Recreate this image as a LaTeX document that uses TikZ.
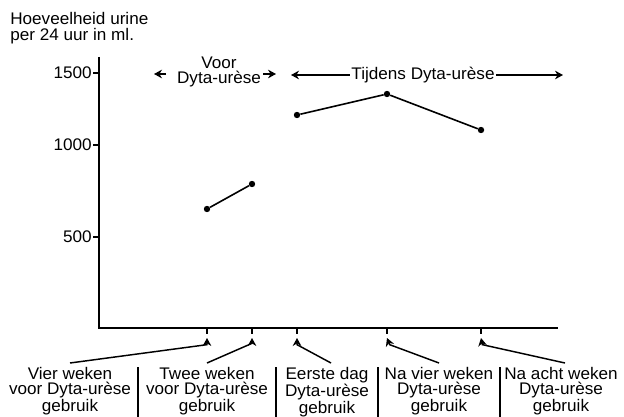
\documentclass[tikz,border=0pt]{standalone}
\usepackage{fontspec}
\setmainfont[FakeStretch=1.02]{Liberation Sans}
\usetikzlibrary{arrows.meta}
\tikzstyle{tekst} = [inner sep=0pt,
font=\fontsize{12.6}{11.6}\selectfont]
\tikzstyle{onder} = [tekst, align=center, anchor=north]
\tikzstyle{as} = [line width=1.4pt]
\tikzstyle{lijn} = [line width=1.2pt]
\tikzstyle{punt} = [circle, fill=black, inner sep=0pt, minimum size=4.8pt]
\tikzstyle{scheiding} = [line width=1.8pt]
\tikzstyle{pijl} = [line width=1.1pt,-{Stealth[length=6pt,width=6.5pt]}]

\begin{document}
\begin{tikzpicture}[x=0.75pt,y=-0.75pt]
        \useasboundingbox (0,0) rectangle (624,417);
        % titel
        \node (titel) [tekst, align=left, anchor=north west, font=\fontsize{12.6}{12}\selectfont] at (10,12) {Hoeveelheid urine\\per 24 uur in ml.};
        % assen
        \coordinate (ytop) at (99,57);
        \coordinate (o) at (99,328);
        \coordinate (xeind) at (558,328);
        \draw [as] (ytop) -- (o) -- (xeind);
        \foreach \y/\t in {73/1500,145/1000,237/500} {
            \draw [as] (93,\y) -- (99,\y);
            \node (y\t) [tekst, anchor=east] at (92,\y) {\t};
        }
        \foreach \x/\n in {207/1,252/2,297/3,387/4,481/5} {
            \draw [line width=1pt] (\x,328) -- (\x,334);
            \coordinate (t\n) at (\x,338);
        }
        % meetpunten
        \node (p1) [punt] at (207,209) {};
        \node (p2) [punt] at (252,184) {};
        \node (p3) [punt] at (297,115) {};
        \node (p4) [punt] at (387,94) {};
        \node (p5) [punt] at (481,130) {};
        \draw [lijn] (p1) -- (p2);
        \draw [lijn] (p3) -- (p4) -- (p5);
        % perioden
        \node (voor) [tekst, align=center] at (219,72) {Voor\\Dyta-urèse};
        \node (tijdens) [tekst] at (423,75) {Tijdens Dyta-urèse};
        \coordinate (vls) at (166,74);
        \coordinate (vl) at (154,74);
        \coordinate (vrs) at (263,74);
        \coordinate (vr) at (276,74);
        \coordinate (tl) at (291,75);
        \coordinate (tr) at (563,75);
        \draw [pijl] (vls) -- (vl);
        \draw [pijl] (vrs) -- (vr);
        \draw [pijl] ([xshift=-1pt]tijdens.west) -- (tl);
        \draw [pijl] ([xshift=1pt]tijdens.east) -- (tr);
        % tijdstippen
        \node (vier) [onder] at (70,367) {Vier weken\\voor Dyta-urèse\\gebruik};
        \node (twee) [onder] at (207,367) {Twee weken\\voor Dyta-urèse\\gebruik};
        \node (eerste) [onder] at (327,367) {Eerste dag\\Dyta-urèse\\gebruik};
        \node (navier) [onder] at (439,367) {Na vier weken\\Dyta-urèse\\gebruik};
        \node (naacht) [onder] at (561,367) {Na acht weken\\Dyta-urèse\\gebruik};
        \draw [pijl] ([yshift=3pt]vier.north) -- ([yshift=-5pt]t1) -- (t1);
        \draw [pijl] ([yshift=3pt]twee.north) -- ([yshift=-4pt]t2) -- (t2);
        \draw [pijl] ([xshift=3pt,yshift=3pt]eerste.north) -- ([yshift=-5pt]t3) -- (t3);
        \draw [pijl] ([yshift=3pt]navier.north) -- ([xshift=2pt,yshift=-5pt]t4) -- (t4);
        \draw [pijl] ([xshift=3pt,yshift=3pt]naacht.north) -- ([xshift=1pt,yshift=-5pt]t5) -- (t5);
        \draw [scheiding] (138,367) -- (138,417);
        \draw [scheiding] (276,367) -- (276,417);
        \draw [scheiding] (378,367) -- (378,417);
        \draw [scheiding] (500,367) -- (500,417);
    \end{tikzpicture}
\end{document}
